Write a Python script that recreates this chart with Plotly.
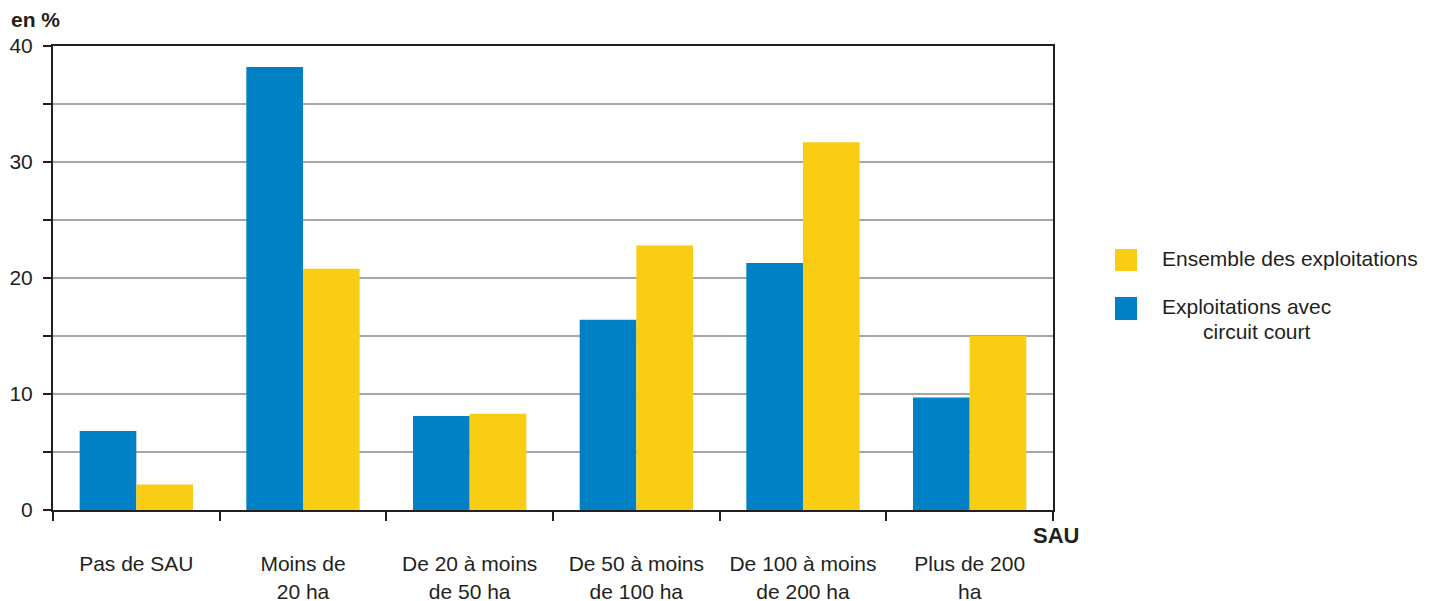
import plotly.graph_objects as go

categories = ["Pas de SAU", "Moins de<br>20 ha", "De 20 à moins<br>de 50 ha",
              "De 50 à moins<br>de 100 ha", "De 100 à moins<br>de 200 ha", "Plus de 200<br>ha"]
circuit_court = [6.8, 38.2, 8.1, 16.4, 21.3, 9.7]
ensemble = [2.2, 20.8, 8.3, 22.8, 31.7, 15.0]
y_tickvals = [0, 5, 10, 15, 20, 25, 30, 35, 40]
y_ticktext = ["0", "", "10", "", "20", "", "30", "", "40"]

BLUE = "#0081C6"
YELLOW = "#F9CD14"
DARK = "#231F20"
FONT = "Liberation Sans, Arial, sans-serif"

fig = go.Figure()
fig.add_trace(go.Bar(x=categories, y=circuit_court, name="Exploitations avec circuit court",
                     marker=dict(color=BLUE, line=dict(width=0))))
fig.add_trace(go.Bar(x=categories, y=ensemble, name="Ensemble des exploitations",
                     marker=dict(color=YELLOW, line=dict(width=0))))

# page has an 8px body margin; offset the figure accordingly
OFF = 8
W, H = 1437 - 2 * OFF, 601 - OFF
# plot area in screen pixels (reference)
L, R, T, B = 53, 1053, 46, 510

def px(x):
    return (x - L) / (R - L)

def py(y):
    return (B - y) / (B - T)

fig.update_layout(
    width=W, height=H,
    margin=dict(l=L - OFF, r=W - (R - OFF), t=T - OFF, b=H - (B - OFF), pad=0, autoexpand=False),
    paper_bgcolor="white", plot_bgcolor="white",
    barmode="group", bargap=0.32, bargroupgap=0,
    showlegend=False,
    font=dict(family=FONT, size=21, color=DARK),
    xaxis=dict(
        type="category", tickson="boundaries", ticks="outside", ticklen=9,
        tickwidth=2, tickcolor=DARK, showline=True, linecolor=DARK, linewidth=2,
        mirror=True, showgrid=False, ticklabelstandoff=34, automargin=False,
        tickfont=dict(family=FONT, size=21, color=DARK),
    ),
    yaxis=dict(
        range=[0, 40], tickvals=y_tickvals, ticktext=y_ticktext,
        ticks="outside", ticklen=8, tickwidth=2, tickcolor=DARK,
        showline=True, linecolor=DARK, linewidth=2, mirror=True,
        showgrid=True, gridcolor="#A6A6A6", gridwidth=1.5, zeroline=False,
        tickfont=dict(family=FONT, size=21, color=DARK), ticklabelstandoff=6,
        automargin=False,
    ),
)

fig.add_annotation(text="<b>en %</b>", xref="paper", yref="paper",
                   x=px(9), y=py(19), xanchor="left", yanchor="middle",
                   showarrow=False, font=dict(family=FONT, size=21, color=DARK))
fig.add_annotation(text="<b>SAU</b>", xref="paper", yref="paper",
                   x=px(1081), y=py(535), xanchor="right", yanchor="middle",
                   showarrow=False, font=dict(family=FONT, size=22, color=DARK))

# legend
fig.add_shape(type="rect", xref="paper", yref="paper",
              x0=px(1115), x1=px(1137), y0=py(271), y1=py(249),
              fillcolor=YELLOW, line=dict(width=0))
fig.add_shape(type="rect", xref="paper", yref="paper",
              x0=px(1115), x1=px(1137), y0=py(320), y1=py(297),
              fillcolor=BLUE, line=dict(width=0))
fig.add_annotation(text="Ensemble des exploitations", xref="paper", yref="paper",
                   x=px(1160), y=py(258), xanchor="left", yanchor="middle",
                   showarrow=False, font=dict(family=FONT, size=21, color=DARK))
fig.add_annotation(text="Exploitations avec", xref="paper", yref="paper",
                   x=px(1160), y=py(306), xanchor="left", yanchor="middle",
                   showarrow=False, font=dict(family=FONT, size=21, color=DARK))
fig.add_annotation(text="circuit court", xref="paper", yref="paper",
                   x=px(1257), y=py(331), xanchor="center", yanchor="middle",
                   showarrow=False, font=dict(family=FONT, size=21, color=DARK))

fig.write_html("out.html")
